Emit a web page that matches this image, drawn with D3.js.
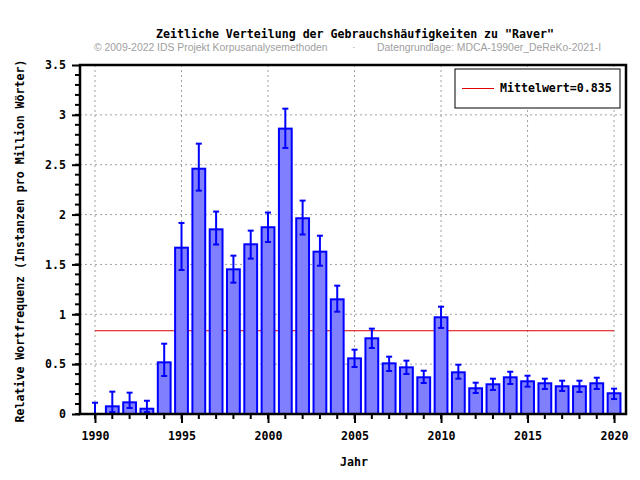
<!DOCTYPE html>
<html>
<head>
<meta charset="utf-8">
<script src="https://cdn.jsdelivr.net/npm/d3@7"></script>
<style>
  body { margin: 0; background: #fff; }
  text { font-family: "DejaVu Sans Mono", monospace; font-weight: bold; font-size: 11.6px; }
</style>
</head>
<body>
<script>
var years = [1990, 1991, 1992, 1993, 1994, 1995, 1996, 1997, 1998, 1999,
             2000, 2001, 2002, 2003, 2004, 2005, 2006, 2007, 2008, 2009,
             2010, 2011, 2012, 2013, 2014, 2015, 2016, 2017, 2018, 2019, 2020];
var freq = [0, 0.077, 0.117, 0.053, 0.518, 1.668, 2.46, 1.852, 1.451, 1.702,
            1.873, 2.862, 1.963, 1.628, 1.150, 0.558, 0.759, 0.508, 0.468, 0.368,
            0.970, 0.418, 0.258, 0.298, 0.368, 0.328, 0.308, 0.278, 0.278, 0.308, 0.208];
var errLow = [0, 0.02, 0.06, 0.02, 0.381, 1.444, 2.24, 1.70, 1.317, 1.558,
              1.725, 2.668, 1.80, 1.487, 1.026, 0.471, 0.662, 0.431, 0.401, 0.311,
              0.863, 0.354, 0.211, 0.241, 0.301, 0.274, 0.251, 0.231, 0.221, 0.251, 0.150];
var errHigh = [0.113, 0.224, 0.214, 0.133, 0.705, 1.916, 2.711, 2.03, 1.588, 1.839,
               2.02, 3.062, 2.14, 1.788, 1.287, 0.645, 0.856, 0.575, 0.535, 0.434,
               1.076, 0.494, 0.314, 0.354, 0.424, 0.384, 0.354, 0.334, 0.334, 0.364, 0.254];
var mean = 0.835;
var xTicks = [1990, 1995, 2000, 2005, 2010, 2015, 2020];
var yTicks = [0, 0.5, 1, 1.5, 2, 2.5, 3, 3.5];

var data = years.map(function(y, i) {
  return { year: y, v: freq[i], lo: errLow[i], hi: errHigh[i] };
});

var svgWidth = 640, svgHeight = 480;
var plotLeft = 80, plotRight = 626, plotTop = 65, plotBottom = 414;

var svg = d3.select("body").append("svg")
  .attr("width", svgWidth)
  .attr("height", svgHeight);

var x = d3.scaleLinear().domain([1989.133, 2020.69]).range([plotLeft, plotRight]);
var y = d3.scaleLinear().domain([0, 3.5]).range([plotBottom, plotTop]);

// grid
svg.append("g").selectAll("line")
  .data(xTicks)
  .enter().append("line")
  .attr("x1", d => x(d)).attr("x2", d => x(d))
  .attr("y1", plotTop).attr("y2", plotBottom)
  .attr("stroke", "#a0a0a0").attr("stroke-dasharray", "2,3");
svg.append("g").selectAll("line")
  .data(yTicks.slice(1, -1))
  .enter().append("line")
  .attr("x1", plotLeft).attr("x2", plotRight)
  .attr("y1", d => y(d)).attr("y2", d => y(d))
  .attr("stroke", "#a0a0a0").attr("stroke-dasharray", "2,3");

// mean line
svg.append("line")
  .attr("x1", x(1990)).attr("x2", x(2020))
  .attr("y1", y(mean)).attr("y2", y(mean))
  .attr("stroke", "#e00000").attr("stroke-width", 1);

// bars
var bw = x(1990.74) - x(1990);
svg.append("g").selectAll("rect")
  .data(data.filter(d => d.v > 0))
  .enter().append("rect")
  .attr("x", d => x(d.year) - bw / 2)
  .attr("width", bw)
  .attr("y", d => y(d.v))
  .attr("height", d => y(0) - y(d.v))
  .attr("fill", "#8080ff")
  .attr("stroke", "#0000ff")
  .attr("stroke-width", 2);

// error bars
var eb = svg.append("g").attr("stroke", "#0000ff").attr("stroke-width", 2);
data.forEach(function(d) {
  eb.append("line")
    .attr("x1", x(d.year)).attr("x2", x(d.year))
    .attr("y1", y(d.lo)).attr("y2", y(d.hi));
  [d.lo, d.hi].forEach(function(e) {
    eb.append("line")
      .attr("x1", x(d.year) - 3).attr("x2", x(d.year) + 3)
      .attr("y1", y(e)).attr("y2", y(e));
  });
});

// frame
svg.append("rect")
  .attr("x", plotLeft).attr("y", plotTop)
  .attr("width", plotRight - plotLeft).attr("height", plotBottom - plotTop)
  .attr("fill", "none").attr("stroke", "#000").attr("stroke-width", 2.5);

// y axis
var yAxis = d3.axisLeft(y).tickValues(yTicks).tickSize(8).tickPadding(6)
  .tickFormat(d3.format(""));
var ga = svg.append("g").attr("transform", `translate(${plotLeft},0)`).call(yAxis);
var yMinor = d3.range(0, 35).map(i => i / 10);
svg.append("g").selectAll("line")
  .data(yMinor)
  .enter().append("line")
  .attr("x1", plotLeft - 5).attr("x2", plotLeft)
  .attr("y1", d => y(d)).attr("y2", d => y(d))
  .attr("stroke", "#000").attr("stroke-width", 2);

// x axis
var xAxis = d3.axisBottom(x).tickValues(xTicks).tickSize(9).tickPadding(9)
  .tickFormat(d3.format("d"));
var gb = svg.append("g").attr("transform", `translate(0,${plotBottom})`).call(xAxis);
svg.append("g").selectAll("line")
  .data(years)
  .enter().append("line")
  .attr("x1", d => x(d)).attr("x2", d => x(d))
  .attr("y1", plotBottom).attr("y2", plotBottom + 5)
  .attr("stroke", "#000").attr("stroke-width", 2);

[ga, gb].forEach(function(g) {
  g.select(".domain").remove();
  g.selectAll(".tick line").attr("stroke", "#000").attr("stroke-width", 2);
  g.selectAll(".tick text")
    .attr("fill", "#000")
    .style("font-family", "DejaVu Sans Mono, monospace")
    .style("font-weight", "bold")
    .style("font-size", "11.6px");
});

// titles
svg.append("text")
  .attr("x", 355).attr("y", 38)
  .attr("text-anchor", "middle")
  .text("Zeitliche Verteilung der Gebrauchshäufigkeiten zu \"Raver\"");

var sub = [
  { x: 94, t: "© 2009-2022 IDS Projekt Korpusanalysemethoden" },
  { x: 352, t: "·" },
  { x: 377, t: "Datengrundlage: MDCA-1990er_DeReKo-2021-I" }
];
svg.append("g").selectAll("text")
  .data(sub)
  .enter().append("text")
  .attr("x", d => d.x).attr("y", 51)
  .style("font-family", "Liberation Sans, Arial, sans-serif")
  .style("font-weight", "normal")
  .style("font-size", "10.4px")
  .attr("fill", "#a0a0a0")
  .text(d => d.t);

svg.append("text")
  .attr("x", 354).attr("y", 466)
  .attr("text-anchor", "middle")
  .text("Jahr");

svg.append("text")
  .attr("transform", "translate(24,241) rotate(-90)")
  .attr("text-anchor", "middle")
  .text("Relative Wortfrequenz (Instanzen pro Million Wörter)");

// legend
var lg = svg.append("g");
lg.append("rect")
  .attr("x", 455).attr("y", 69)
  .attr("width", 165).attr("height", 39)
  .attr("fill", "#fff").attr("stroke", "#000").attr("stroke-width", 1);
lg.append("line")
  .attr("x1", 462).attr("x2", 494)
  .attr("y1", 88.5).attr("y2", 88.5)
  .attr("stroke", "#e00000").attr("stroke-width", 1);
lg.append("text")
  .attr("x", 500).attr("y", 92)
  .text("Mittelwert=" + mean);
</script>
</body>
</html>
